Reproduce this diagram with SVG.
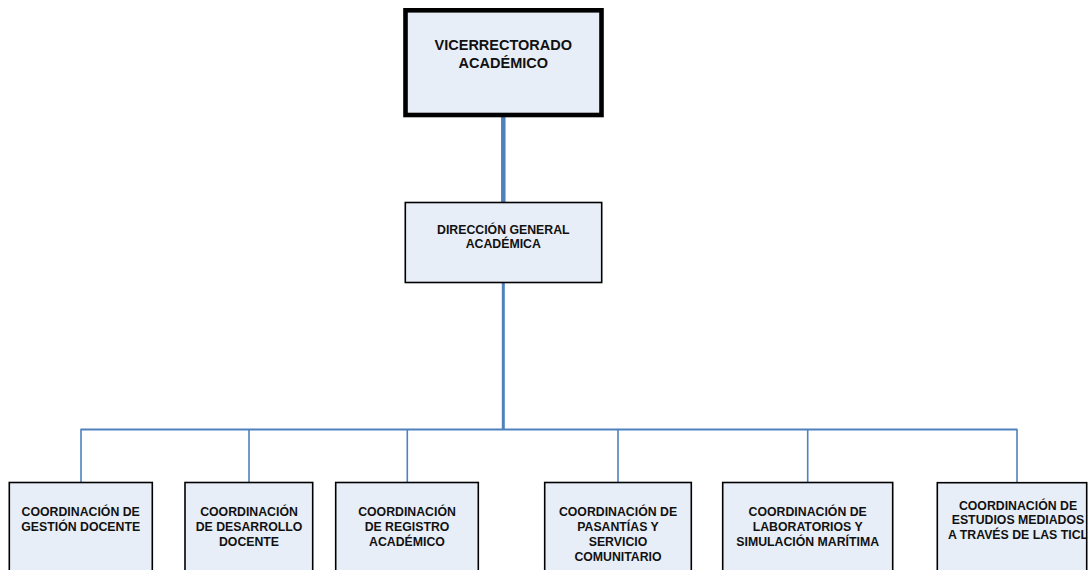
<svg xmlns="http://www.w3.org/2000/svg" width="1089" height="570" viewBox="0 0 1089 570">
<style>
.box{fill:#E8EEF7;stroke:#000;stroke-width:1.6}
.thick{stroke-width:4.6}
.t{font-family:"Liberation Sans",Arial,sans-serif;font-weight:bold;font-size:12.3px;fill:#111;text-anchor:middle}
.big{font-size:14.5px}
.c{stroke:#4F81BD;fill:none}
</style>
<defs>
<clipPath id="clip6"><rect x="937" y="482" width="149" height="100"/></clipPath>
</defs>
<rect width="1089" height="570" fill="#fff"/>
<g id="connectors">
<line class="c" x1="503.3" y1="116" x2="503.3" y2="203" stroke-width="4.5"/>
<line class="c" x1="503.3" y1="283" x2="503.3" y2="430" stroke-width="3"/>
<line class="c" x1="80.5" y1="429.5" x2="1017.5" y2="429.5" stroke-width="1.8"/>
<line class="c" x1="81" y1="429.5" x2="81" y2="482.5" stroke-width="1.6"/>
<line class="c" x1="249" y1="429.5" x2="249" y2="482.5" stroke-width="1.6"/>
<line class="c" x1="407.3" y1="429.5" x2="407.3" y2="482.5" stroke-width="1.6"/>
<line class="c" x1="618" y1="429.5" x2="618" y2="482.5" stroke-width="1.6"/>
<line class="c" x1="807.7" y1="429.5" x2="807.7" y2="482.5" stroke-width="1.6"/>
<line class="c" x1="1017" y1="429.5" x2="1017" y2="482.5" stroke-width="1.6"/>
</g>
<g id="vicerrectorado">
<rect class="box thick" x="405.5" y="10.3" width="196" height="104.7"/>
<text class="t big" x="503.3" y="49.5">VICERRECTORADO</text>
<text class="t big" x="503.3" y="67.5">ACADÉMICO</text>
</g>
<g id="direccion">
<rect class="box" x="405.3" y="202.5" width="196.4" height="80"/>
<text class="t" x="503.3" y="234.3">DIRECCIÓN GENERAL</text>
<text class="t" x="503.3" y="248.3">ACADÉMICA</text>
</g>
<g id="gestion">
<rect class="box" x="9.3" y="482.5" width="143" height="100"/>
<text class="t" x="80.7" y="516">COORDINACIÓN DE</text>
<text class="t" x="80.7" y="531">GESTIÓN DOCENTE</text>
</g>
<g id="desarrollo">
<rect class="box" x="185" y="482.5" width="127.7" height="100"/>
<text class="t" x="249" y="516">COORDINACIÓN</text>
<text class="t" x="249" y="531">DE DESARROLLO</text>
<text class="t" x="249" y="546">DOCENTE</text>
</g>
<g id="registro">
<rect class="box" x="335.7" y="482.5" width="142.6" height="100"/>
<text class="t" x="407" y="516">COORDINACIÓN</text>
<text class="t" x="407" y="531">DE REGISTRO</text>
<text class="t" x="407" y="546">ACADÉMICO</text>
</g>
<g id="pasantias">
<rect class="box" x="544.7" y="482.5" width="146.6" height="100"/>
<text class="t" x="618" y="516">COORDINACIÓN DE</text>
<text class="t" x="618" y="531">PASANTÍAS Y</text>
<text class="t" x="618" y="546">SERVICIO</text>
<text class="t" x="618" y="561">COMUNITARIO</text>
</g>
<g id="laboratorios">
<rect class="box" x="722.7" y="482.5" width="170" height="100"/>
<text class="t" x="807.7" y="516">COORDINACIÓN DE</text>
<text class="t" x="807.7" y="531">LABORATORIOS Y</text>
<text class="t" x="807.7" y="546">SIMULACIÓN MARÍTIMA</text>
</g>
<g id="estudios">
<rect class="box" x="937.3" y="482.7" width="149.4" height="100"/>
<g clip-path="url(#clip6)">
<text class="t" x="1018" y="509.5">COORDINACIÓN DE</text>
<text class="t" x="1018" y="524">ESTUDIOS MEDIADOS</text>
<text class="t" x="1018" y="538.5">A TRAVÉS DE LAS TICL</text>
</g>
</g>
</svg>
